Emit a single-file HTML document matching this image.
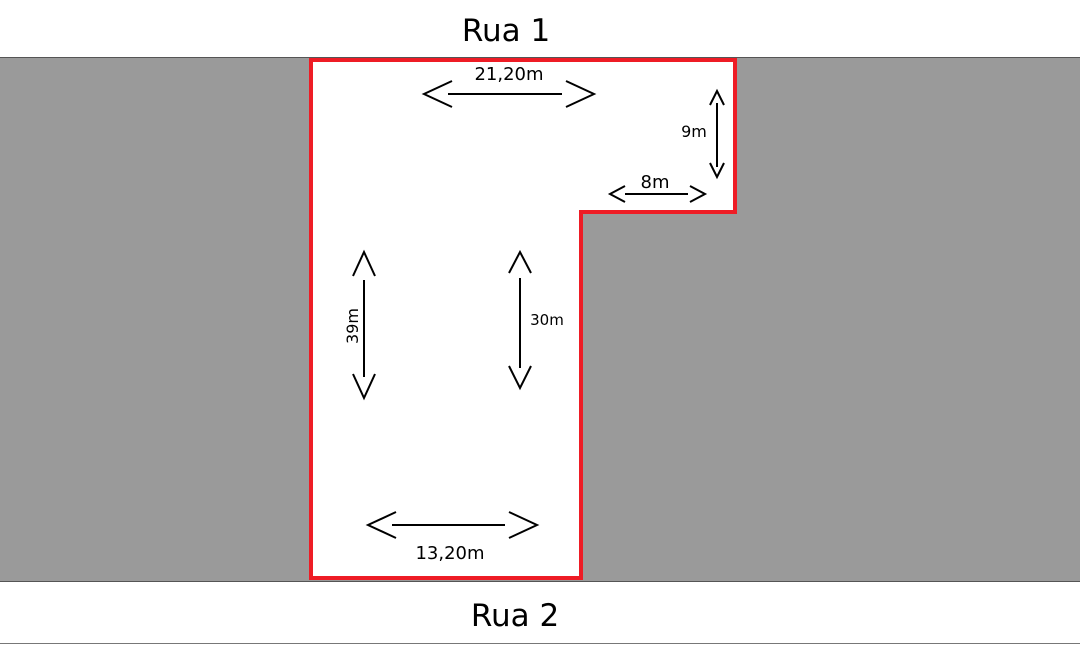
<!DOCTYPE html>
<html><head><style>
html,body{margin:0;padding:0;background:#fff;}
svg{display:block;}
text{font-family:"DejaVu Sans","Liberation Sans",sans-serif;fill:#000;}
</style></head><body>
<svg width="1080" height="645" viewBox="0 0 1080 645" xmlns="http://www.w3.org/2000/svg">
<rect x="0" y="0" width="1080" height="645" fill="#fff"/>
<rect x="0" y="58" width="1080" height="524" fill="#9a9a9a"/>
<line x1="0" y1="57.5" x2="1080" y2="57.5" stroke="#555" stroke-width="1"/>
<line x1="0" y1="581.5" x2="1080" y2="581.5" stroke="#555" stroke-width="1"/>
<line x1="0" y1="643.5" x2="1080" y2="643.5" stroke="#777" stroke-width="1"/>
<polygon points="311,60 735,60 735,212 581,212 581,578 311,578" fill="#fff" stroke="#ee1c25" stroke-width="4"/>
<g stroke="#000" stroke-width="2" fill="none">
<!-- 21,20m -->
<line x1="448" y1="94" x2="562" y2="94"/>
<polyline points="452,81 424,94 452,107"/>
<polyline points="566,81 594,94 566,107"/>
<!-- 9m -->
<line x1="717" y1="103" x2="717" y2="167"/>
<polyline points="710,105 717,91 724,105"/>
<polyline points="710,163 717,177 724,163"/>
<!-- 8m -->
<line x1="625" y1="194" x2="688" y2="194"/>
<polyline points="625,186 610,194 625,202"/>
<polyline points="690,186 705,194 690,202"/>
<!-- 39m -->
<line x1="364" y1="280" x2="364" y2="377"/>
<polyline points="353,276 364,252 375,276"/>
<polyline points="353,374 364,398 375,374"/>
<!-- 30m -->
<line x1="520" y1="278" x2="520" y2="368"/>
<polyline points="509,273 520,252 531,273"/>
<polyline points="509,366 520,388 531,366"/>
<!-- 13,20m -->
<line x1="392" y1="525" x2="505" y2="525"/>
<polyline points="396,512 368,525 396,538"/>
<polyline points="509,512 537,525 509,538"/>
</g>
<text x="506" y="41" font-size="31" text-anchor="middle">Rua 1</text>
<text x="515" y="626" font-size="31" text-anchor="middle">Rua 2</text>
<text x="509" y="80" font-size="18" text-anchor="middle">21,20m</text>
<text x="694" y="137" font-size="16" text-anchor="middle">9m</text>
<text x="655" y="188" font-size="18" text-anchor="middle">8m</text>
<text x="547" y="325" font-size="15" text-anchor="middle">30m</text>
<text x="450" y="559" font-size="18" text-anchor="middle">13,20m</text>
<text x="0" y="0" font-size="16" text-anchor="middle" transform="translate(358,326) rotate(-90)">39m</text>
</svg>
</body></html>
